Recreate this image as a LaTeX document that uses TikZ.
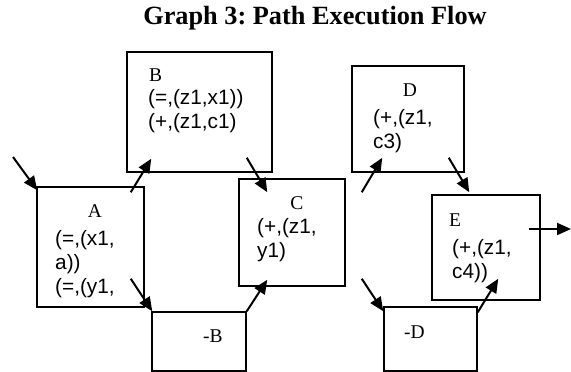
\documentclass[tikz,border=0pt]{standalone}
\usepackage{fontspec}
\setmainfont{Liberation Serif}
\setsansfont{Liberation Sans}
\usetikzlibrary{
	arrows.meta,    % Per le punte delle frecce
	positioning     % Per posizionare i nodi
}
\frenchspacing
% Righe di testo allineate a sinistra (baseline sulla prima riga)
\newcommand{\righe}[1]{\begin{tabular}[t]{@{}l@{}}#1\end{tabular}}

\begin{document}
\begin{tikzpicture}[x=1pt, y=-1pt, >={Triangle[length=14pt,width=12pt]},
	blocco/.style={draw, line width=1.5pt, inner sep=0pt},
	lettera/.style={font=\rmfamily\fontsize{19.5}{24}\selectfont, inner sep=0pt},
	testo/.style={font=\sffamily\fontsize{20.8}{24}\selectfont, inner sep=0pt, anchor=base west},
	flusso/.style={->, line width=2pt}]
		% Area del disegno (in pixel)
		\useasboundingbox (0,0) rectangle (571,372);
		
		% --- Titolo ---
		\node[font=\rmfamily\bfseries\fontsize{26.3}{30}\selectfont, anchor=base, inner sep=0pt] (titolo) at (315,24) {Graph 3: Path Execution Flow};
		
		% --- Blocchi ---
		\node[blocco, minimum width=107pt, minimum height=120pt] (A) at (90.5,247) {};
		\node[blocco, minimum width=145pt, minimum height=120pt] (B) at (199.5,112) {};
		\node[blocco, minimum width=94pt, minimum height=59pt] (nB) at (199,341.5) {};
		\node[blocco, minimum width=106pt, minimum height=107pt] (C) at (292,232.5) {};
		\node[blocco, minimum width=112pt, minimum height=106pt] (D) at (408,119) {};
		\node[blocco, minimum width=108pt, minimum height=105pt] (E) at (486,247.5) {};
		\node[blocco, minimum width=93pt, minimum height=64pt] (nD) at (430.5,339) {};
		
		% --- Etichette ---
		\node[lettera, anchor=base] (A-l) at (95,217) {A};
		\node[testo] (A-t) at (55,245) {\righe{(=,(x1,\\ a))\\ (=,(y1,}};
		\node[lettera, anchor=base west] (B-l) at (149,81) {B};
		\node[testo] (B-t) at (148,104) {\righe{(=,(z1,x1))\\ (+,(z1,c1)}};
		\node[lettera, anchor=base west] (nB-l) at (203,342) {-B};
		\node[lettera, anchor=base] (C-l) at (297,209) {C};
		\node[testo] (C-t) at (257,233) {\righe{(+,(z1,\\ y1)}};
		\node[lettera, anchor=base] (D-l) at (410,96) {D};
		\node[testo] (D-t) at (373,124) {\righe{(+,(z1,\\ c3)}};
		\node[lettera, anchor=base west] (E-l) at (449,226) {E};
		\node[testo] (E-t) at (452,254) {\righe{(+,(z1,\\ c4))}};
		\node[lettera, anchor=base west] (nD-l) at (404,338) {-D};
		
		% --- Frecce ---
		% Ingresso e uscita
		\coordinate (ingresso) at (13,157);
		\coordinate (uscita) at (571,229);
		\draw[flusso] (ingresso) -- ([shift={(1,4)}]A.north west);
		\draw[flusso] ([shift={(-12,-18.5)}]E.east) -- (uscita);
		% Prima diramazione
		\draw[flusso] ([shift={(-14,6)}]A.north east) -- ([shift={(25,-14)}]B.south west);
		\draw[flusso] ([shift={(-14,-29)}]A.south east) -- ([shift={(1,0)}]nB.north west);
		\draw[flusso] ([shift={(-26,-15)}]B.south east) -- ([shift={(29,14)}]C.north west);
		\draw[flusso] (nB.north east) -- ([shift={(29,-7)}]C.south west);
		% Seconda diramazione
		\draw[flusso] ([shift={(16,14)}]C.north east) -- ([shift={(31,-15)}]D.south west);
		\draw[flusso] ([shift={(16,-8)}]C.south east) -- ([shift={(0,5)}]nD.north west);
		\draw[flusso] ([shift={(-16,-15)}]D.south east) -- ([shift={(38,-2)}]E.north west);
		\draw[flusso] ([shift={(0,6)}]nD.north east) -- ([shift={(67,-22)}]E.south west);
	\end{tikzpicture}
\end{document}
